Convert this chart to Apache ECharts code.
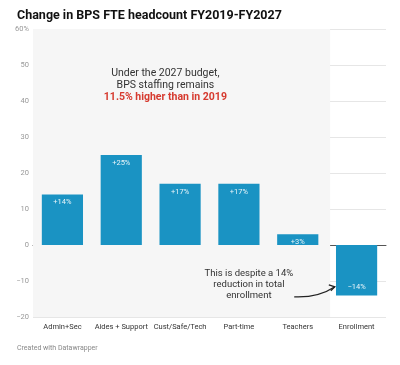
<!DOCTYPE html>
<html><head><meta charset="utf-8">
<script src="https://cdn.jsdelivr.net/npm/echarts@6/dist/echarts.min.js"></script>
<style>html,body{margin:0;padding:0;background:#fff}#c{width:400px;height:365px}</style>
</head><body><div id="c"></div>
<script>
const categories = ['Admin+Sec', 'Aides + Support', 'Cust/Safe/Tech', 'Part-time', 'Teachers', 'Enrollment'];
const values = [14, 25, 17, 17, 3, -14];
const yTicks = [-20, -10, 0, 10, 20, 30, 40, 50, 60];

const chart = echarts.init(document.getElementById('c'), null, {renderer: 'canvas'});
const FONT = 'Roboto';
const option = {
  animation: false,
  textStyle: {fontFamily: FONT},
  title: [{
    text: 'Change in BPS FTE headcount FY2019-FY2027',
    left: 12, top: 4,
    textStyle: {fontFamily: FONT, fontWeight: 'bold', fontSize: 12.5, color: '#111'}
  }, {
    text: 'Created with Datawrapper',
    left: 12, top: 340,
    textStyle: {fontFamily: FONT, fontWeight: 'normal', fontSize: 7, color: '#888'}
  }],
  grid: {left: 33, right: 14, top: 29, bottom: 48},
  xAxis: [{
    type: 'category', data: categories,
    axisTick: {show: false},
    axisLine: {show: true, onZero: true, lineStyle: {color: '#555', width: 1}},
    axisLabel: {color: '#333', fontSize: 7.5, margin: 6, interval: 0, fontFamily: FONT}
  }, {
    type: 'value', min: 0, max: 6, show: false
  }],
  yAxis: {
    type: 'value', min: -20, max: 60, interval: 10,
    axisLine: {show: false}, axisTick: {show: false},
    splitLine: {lineStyle: {color: '#e6e6e6', width: 1}},
    axisLabel: {
      color: '#999', fontSize: 7.5, margin: 4, fontFamily: FONT,
      formatter: v => (v === yTicks[yTicks.length - 1] ? v + '%' : String(v).replace('-', '\u2212'))
    }
  },
  series: [{
    type: 'line', xAxisIndex: 1, data: [], silent: true,
    markArea: {
      silent: true,
      itemStyle: {color: '#f6f6f6'},
      data: [[{xAxis: 0, yAxis: -20}, {xAxis: 5.05, yAxis: 60}]]
    },
    z: 0
  }, {
    type: 'bar', data: values.map(v => ({
      value: v,
      label: {position: v >= 0 ? 'insideTop' : 'insideBottom'}
    })),
    barWidth: '70%',
    itemStyle: {color: '#1a93c3'},
    label: {
      show: true, color: 'rgba(255,255,255,0.9)', fontSize: 7.5, fontFamily: FONT, distance: 4,
      formatter: p => (p.value >= 0 ? '+' : '\u2212') + Math.abs(p.value) + '%'
    },
    z: 2
  }]
};
chart.setOption(option);

// annotations anchored in data coordinates
const p1 = chart.convertToPixel({xAxisIndex: 1, yAxisIndex: 0}, [2.25, 50]);
const p2 = chart.convertToPixel({xAxisIndex: 1, yAxisIndex: 0}, [3.67, -6.4]);
const a0 = chart.convertToPixel({xAxisIndex: 1, yAxisIndex: 0}, [4.44, -14.4]);
const a1 = chart.convertToPixel({xAxisIndex: 1, yAxisIndex: 0}, [5.13, -11.6]);
chart.setOption({
  graphic: [{
    type: 'text', x: p1[0], y: p1[1] + 2,
    style: {
      text: '{n|Under the 2027 budget,}\n{n|BPS staffing remains}\n{r|11.5% higher than in 2019}',
      textAlign: 'center', fontFamily: FONT,
      rich: {
        n: {fontSize: 10.5, fill: '#333', lineHeight: 12, fontFamily: FONT},
        r: {fontSize: 10.5, fill: '#d63a2f', fontWeight: 'bold', lineHeight: 12, fontFamily: FONT}
      }
    }, z: 10
  }, {
    type: 'text', x: p2[0], y: p2[1],
    style: {
      text: 'This is despite a 14%\nreduction in total\nenrollment',
      textAlign: 'center', fontSize: 9.5, lineHeight: 11, fill: '#333', fontFamily: FONT
    }, z: 10
  }, {
    type: 'bezierCurve',
    shape: {x1: a0[0], y1: a0[1], x2: a1[0], y2: a1[1], cpx1: (a0[0] + a1[0]) / 2 + 4, cpy1: a0[1] + 1},
    style: {stroke: '#222', lineWidth: 1.3, fill: null}, z: 10
  }, {
    type: 'polyline',
    shape: {points: [[a1[0] - 6, a1[1] - 2], [a1[0], a1[1]], [a1[0] - 4, a1[1] + 4]]},
    style: {stroke: '#222', lineWidth: 1.3, fill: null}, z: 10
  }]
});
</script></body></html>
